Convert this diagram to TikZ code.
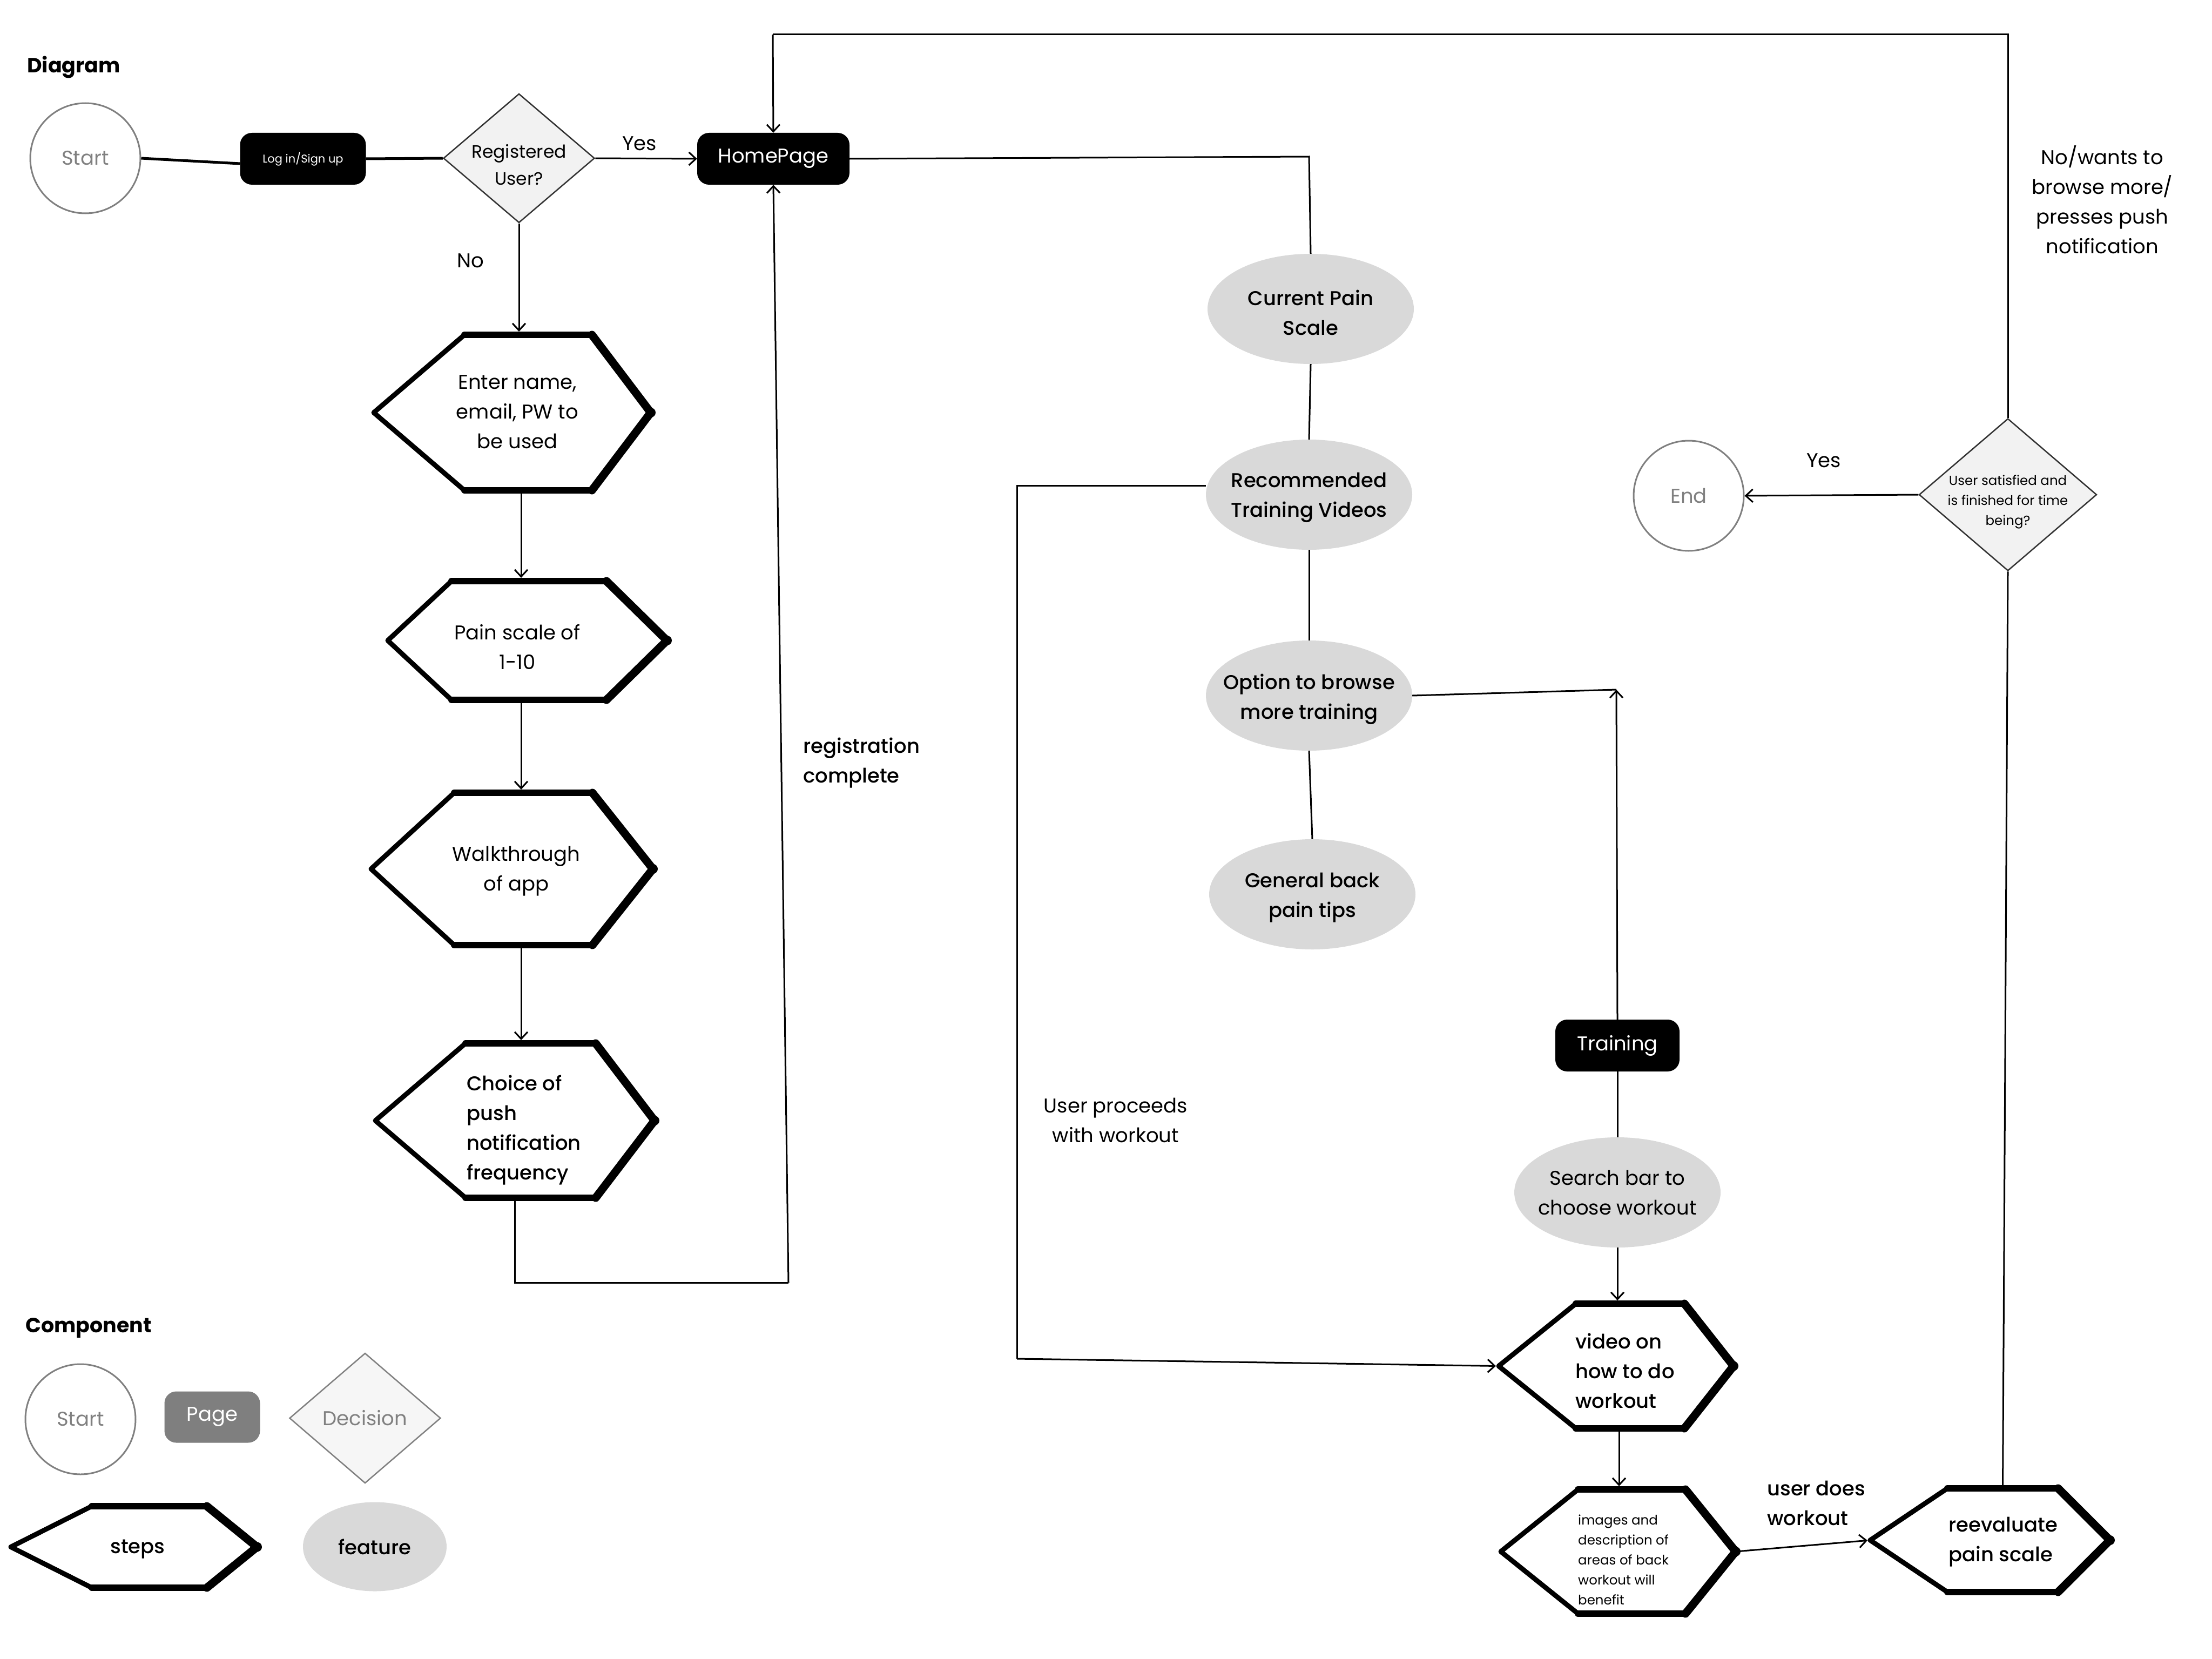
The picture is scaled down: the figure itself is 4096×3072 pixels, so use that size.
\documentclass[tikz,border=0pt]{standalone}
\usepackage{fontspec}
\setmainfont{Poppins}
\newfontfamily\medfont{Poppins Medium}
\usetikzlibrary{shapes.geometric,arrows.meta,calc}
\definecolor{featgray}{HTML}{D9D9D9}
\definecolor{decfill}{HTML}{F2F2F2}
\definecolor{decfilltwo}{HTML}{F6F6F6}
\definecolor{termgray}{HTML}{808080}
\definecolor{pagegray}{HTML}{7F7F7F}
\newcommand{\mainsize}{\fontsize{37}{55}\selectfont}
\newcommand{\medsize}{\medfont\fontsize{37}{55}\selectfont}
\newcommand{\smallsize}{\fontsize{24.5}{37}\selectfont}
\newcommand{\regsize}{\fontsize{33}{50}\selectfont}
\newcommand{\loginsize}{\fontsize{21}{30}\selectfont}
\newcommand{\titlesize}{\fontsize{38}{50}\selectfont\bfseries}
% hexagon "step" outline: name, left point x, inner-left x, inner-right x, right point x, top y, bottom y
\newcommand{\stephex}[7]{%
  \coordinate (#1-tl) at (#3,#6);
  \coordinate (#1-tr) at (#4,#6);
  \coordinate (#1-bl) at (#3,#7);
  \coordinate (#1-br) at (#4,#7);
  \coordinate (#1-l) at ($(#2,#6)!0.5!(#2,#7)$);
  \coordinate (#1-r) at ($(#5,#6)!0.5!(#5,#7)$);
  \coordinate (#1-t) at ($(#1-tl)!0.5!(#1-tr)$);
  \coordinate (#1-b) at ($(#1-bl)!0.5!(#1-br)$);
  \draw[hexthin] (#1-tl) -- (#1-l) -- (#1-bl);
  \draw[hexmid] (#1-tl) -- (#1-tr) (#1-bl) -- (#1-br);
  \draw[hexthick] (#1-tr) -- (#1-r) -- (#1-br);
  \fill (#1-r) circle (9);
}
\begin{document}
\begin{tikzpicture}[x=1pt,y=-1pt,
  every node/.style={font=\mainsize},
  conn/.style={line width=3pt, black},
  arr/.style={conn, -{Straight Barb[length=13pt,width=24pt,line width=3pt]}},
  pagebox/.style={rectangle, rounded corners=22pt, fill=black, text=white, inner sep=0pt},
  feat/.style={ellipse, fill=featgray, minimum width=382pt, minimum height=204pt, inner sep=0pt},
  term/.style={circle, draw=termgray, line width=3pt, minimum size=204pt, text=termgray, inner sep=0pt},
  dec/.style={diamond, fill=decfill, draw=black!80, line width=2.5pt, inner sep=0pt},
  lbl/.style={font=\mainsize, align=center, inner sep=0pt},
  mlbl/.style={font=\medsize, align=center, inner sep=0pt},
  hexthin/.style={line width=9pt, line join=round, line cap=round},
  hexmid/.style={line width=12pt, line cap=round},
  hexthick/.style={line width=15pt, line join=round, line cap=round}]
\useasboundingbox (0,0) rectangle (4096,3072);

% ---------- titles ----------
\node[anchor=west, font=\titlesize, inner sep=0pt] (ttl) at (50,125) {Diagram};
\node[anchor=west, font=\titlesize, inner sep=0pt] (comp) at (47,2459) {Component};

% ---------- top row ----------
\node[term] (start) at (158,293) {Start};
\node[pagebox, minimum width=233pt, minimum height=96pt, font=\loginsize] (login) at (561,294) {Log in/Sign up};
\node[dec, minimum width=280pt, minimum height=239pt,
      label={[lbl, font=\regsize, yshift=-12pt]center:Registered\\User?}] (reg) at (961,293) {};
\node[pagebox, minimum width=282pt, minimum height=96pt] (home) at (1432,294) {HomePage};
\node[lbl] (yesa) at (1184,266) {Yes};
\node[lbl] (noa) at (871,483) {No};

% ---------- registration steps ----------
\stephex{hexa}{692}{860}{1096}{1205}{620}{908}
\node[lbl] (hexatxt) at (958,763) {Enter name,\\email, PW to\\be used};
\stephex{hexb}{718}{836}{1123}{1235}{1076}{1296}
\node[lbl] (hexbtxt) at (958,1198) {Pain scale of\\1-10};
\stephex{hexc}{687}{841}{1097}{1209}{1468}{1750}
\node[lbl] (hexctxt) at (956,1613) {Walkthrough\\of app};
\stephex{hexd}{695}{862}{1103}{1212}{1932}{2218}
\node[mlbl, align=left, anchor=west] (hexdtxt) at (864,2093) {Choice of\\push\\notification\\frequency};
\node[mlbl, align=left, anchor=west] (regdone) at (1487,1413) {registration\\complete};

% ---------- features ----------
\node[feat, label={[mlbl, yshift=-7pt]center:Current Pain\\Scale}] (cur) at (2427,572) {};
\node[feat, label={[mlbl, yshift=-5pt]center:Recommended\\Training Videos}] (rec) at (2424,916) {};
\node[feat, label={[mlbl, yshift=-7pt]center:Option to browse\\more training}] (opt) at (2424,1288) {};
\node[feat, label={[mlbl, yshift=-6pt]center:General back\\pain tips}] (gen) at (2430,1656) {};
\node[lbl] (proceed) at (2066,2074) {User proceeds\\with workout};

% ---------- training ----------
\node[pagebox, minimum width=230pt, minimum height=96pt] (train) at (2995,1936) {Training};
\node[feat, label={[lbl]center:Search bar to\\choose workout}] (search) at (2995,2208) {};
\stephex{hexv}{2775}{2918}{3119}{3210}{2414}{2645}
\node[mlbl, align=left, anchor=west] (hexvtxt) at (2917,2538) {video on\\how to do\\workout};
\stephex{hexi}{2779}{2922}{3121}{3214}{2758}{2988}
\node[lbl, font=\smallsize, align=left, anchor=west] (hexitxt) at (2922,2888) {images and\\description of\\areas of back\\workout will\\benefit};
\stephex{hexr}{3463}{3606}{3811}{3907}{2756}{2948}
\node[mlbl, align=left, anchor=west] (hexrtxt) at (3608,2855) {reevaluate\\pain scale};
\node[mlbl, align=left, anchor=west] (does) at (3272,2783) {user does\\workout};

% ---------- end decision ----------
\node[term] (endc) at (3127,918) {End};
\node[dec, minimum width=329pt, minimum height=282pt,
      label={[lbl, font=\smallsize, yshift=-13pt]center:User satisfied and\\is finished for time\\being?}] (fin) at (3718,916) {};
\node[lbl] (yesb) at (3377,853) {Yes};
\node[lbl] (nowants) at (3893,370) {No/wants to\\browse more/\\presses push\\notification};

% ---------- legend ----------
\node[term] (lstart) at (149,2628) {Start};
\node[pagebox, fill=pagegray, minimum width=177pt, minimum height=95pt] (lpage) at (393,2624) {Page};
\node[dec, fill=decfilltwo, draw=termgray, minimum width=280pt, minimum height=241pt,
      label={[lbl, text=termgray]center:Decision}] (ldec) at (676,2626) {};
\stephex{hexs}{20}{170}{383}{476}{2789}{2940}
\node[mlbl] (lsteps) at (255,2869) {steps};
\node[feat, minimum width=266pt, minimum height=165pt, label={[mlbl]center:feature}] (lfeat) at (694,2864) {};

% ---------- connectors ----------
\draw[conn, line width=5pt] (start.east) -- ($(login.west)+(0,9)$);
\draw[conn, line width=5pt] (login.east) -- (reg.west);
\draw[arr] (reg.east) -- (home.west);
\coordinate (colr) at (965,0);
\draw[arr, shorten >=6pt] (reg.south) -- (reg.south |- hexa-t);
\draw[arr, shorten >=6pt] (colr |- hexa-b) -- (colr |- hexb-t);
\draw[arr, shorten >=6pt] (colr |- hexb-b) -- (colr |- hexc-t);
\draw[arr, shorten >=6pt] (colr |- hexc-b) -- (colr |- hexd-t);
\coordinate (rca) at (953,2375);
\coordinate (rcb) at (1460,2375);
\draw[conn] (rca |- hexd-b) -- (rca) -- (rcb);
\draw[arr] (rcb) -- (home.south);

\coordinate (hc) at (2424,290);
\draw[conn] (home.east) -- (hc) -- (cur.north);
\draw[conn] (cur.south) -- (rec.north);
\draw[conn] (rec.south) -- (opt.north);
\draw[conn] (opt.south) -- (gen.north);

\coordinate (uca) at (1883,899);
\coordinate (ucb) at (1883,2516);
\draw[conn] (uca -| rec.west) -- (uca) -- (ucb);
\draw[arr, shorten >=5pt] (ucb) -- (hexv-l);

\coordinate (oc) at (2993,1277);
\draw[conn] (opt.east) -- (oc);
\draw[arr] (train.north) -- (oc);
\draw[conn] (train.south) -- (search.north);
\coordinate (colv) at (2998,0);
\draw[arr, shorten >=6pt] (search.south) -- (search.south |- hexv-t);
\draw[arr, shorten >=6pt] (colv |- hexv-b) -- (colv |- hexi-t);
\draw[arr, shorten >=5pt] (hexi-r) -- (hexr-l);
\draw[conn] (hexr-t) -- (fin.south);
\draw[arr] (fin.west) -- (endc.east);

\coordinate (tr) at (3718,64);
\coordinate (tl) at (1431,64);
\draw[conn] (fin.north) -- (tr) -- (tl);
\draw[arr] (tl) -- (home.north);
\end{tikzpicture}
\end{document}
